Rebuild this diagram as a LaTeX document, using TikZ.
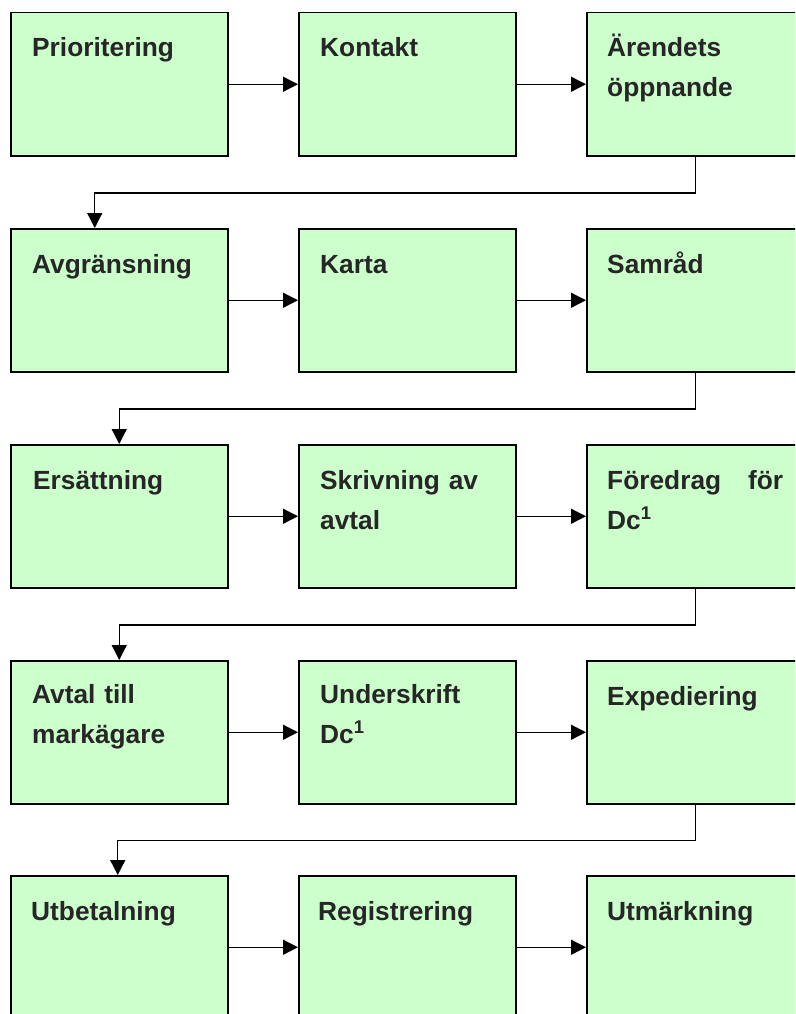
\documentclass[tikz,border=0pt]{standalone}
\usepackage{fontspec}
\setmainfont{Liberation Sans}
\usetikzlibrary{arrows.meta}
\definecolor{boxgreen}{HTML}{CCFFCC}
\definecolor{txtgray}{HTML}{262626}
\tikzset{
  stepbox/.style={draw, line width=1.5pt, fill=boxgreen, anchor=north west,
    minimum width=217pt, minimum height=143pt, inner sep=0pt},
  steptext/.style={anchor=base west, inner sep=0pt, align=left, text width=190pt,
    text=txtgray, font=\fontsize{26.3}{40}\selectfont\bfseries},
  flow/.style={line width=1.3pt, -{Triangle[length=15pt,width=15pt]}}
}
\begin{document}
\begin{tikzpicture}[x=1pt, y=-1pt]
  \useasboundingbox (0,0) rectangle (795,1014);
  \clip (0,0) rectangle (795,1014);

  % rad 1
  \node[stepbox] (prio) at (10,12) {};
  \node[stepbox] (kontakt) at (298,12) {};
  \node[stepbox] (arende) at (586,12) {};
  \node[steptext] (prio-t) at (32,57) {Prioritering};
  \node[steptext] (kontakt-t) at (320,57) {Kontakt};
  \node[steptext] (arende-t) at (607,57) {Ärendets\\öppnande};

  % rad 2
  \node[stepbox] (avgr) at (10,228) {};
  \node[stepbox] (karta) at (298,228) {};
  \node[stepbox] (samrad) at (586,228) {};
  \node[steptext] (avgr-t) at (32,273) {Avgränsning};
  \node[steptext] (karta-t) at (320,273) {Karta};
  \node[steptext] (samrad-t) at (607,273) {Samråd};

  % rad 3
  \node[stepbox] (ersatt) at (10,444) {};
  \node[stepbox] (skriv) at (298,444) {};
  \node[stepbox] (foredrag) at (586,444) {};
  \node[steptext] (ersatt-t) at (33,489) {Ersättning};
  \node[steptext] (skriv-t) at (320,489) {Skrivning av\\avtal};
  \node[steptext] (foredrag-t) at (607,489) {\makebox[176pt][l]{Föredrag\hfill för}\\Dc\textsuperscript{1}};

  % rad 4
  \node[stepbox] (avtal) at (10,660) {};
  \node[stepbox] (under) at (298,660) {};
  \node[stepbox] (exped) at (586,660) {};
  \node[steptext] (avtal-t) at (32,703) {Avtal till\\markägare};
  \node[steptext] (under-t) at (320,703) {Underskrift\\Dc\textsuperscript{1}};
  \node[steptext] (exped-t) at (607,705) {Expediering};

  % rad 5
  \node[stepbox] (utbet) at (10,875) {};
  \node[stepbox] (regist) at (298,875) {};
  \node[stepbox] (utmark) at (586,875) {};
  \node[steptext] (utbet-t) at (31,920) {Utbetalning};
  \node[steptext] (regist-t) at (318,920) {Registrering};
  \node[steptext] (utmark-t) at (607,920) {Utmärkning};

  % pilar inom raderna
  \draw[flow] (prio) -- (kontakt);
  \draw[flow] (kontakt) -- (arende);
  \draw[flow] (avgr) -- (karta);
  \draw[flow] (karta) -- (samrad);
  \draw[flow] (ersatt) -- (skriv);
  \draw[flow] (skriv) -- (foredrag);
  \draw[flow] (avtal) -- (under);
  \draw[flow] (under) -- (exped);
  \draw[flow] (utbet) -- (regist);
  \draw[flow] (regist) -- (utmark);

  % pilar mellan raderna
  \draw[flow] (arende.south) -- ++(0,36.5) -| ([xshift=-24.5pt]avgr.north);
  \draw[flow] (samrad.south) -- ++(0,36.5) -| (avgr.north |- ersatt.north);
  \draw[flow] (foredrag.south) -- ++(0,36.5) -| (ersatt.north |- avtal.north);
  \draw[flow] (exped.south) -- ++(0,36) -| ([xshift=-1.5pt]utbet.north);
\end{tikzpicture}
\end{document}
